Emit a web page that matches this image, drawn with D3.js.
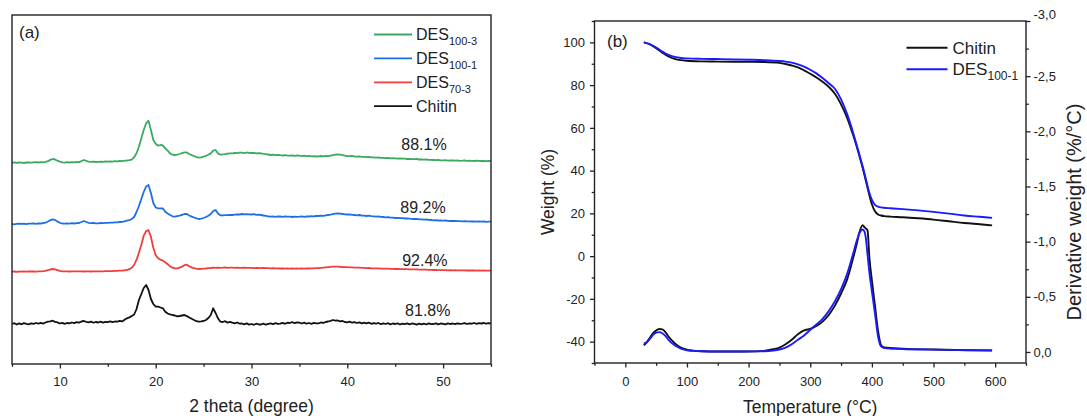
<!DOCTYPE html>
<html>
<head>
<meta charset="utf-8">
<script src="https://cdn.jsdelivr.net/npm/d3@7"></script>
<style>
  html, body { margin: 0; padding: 0; background: #fff; }
  svg { display: block; font-family: "Liberation Sans", Arial, Helvetica, sans-serif; }
</style>
</head>
<body>
<svg id="chart" width="1087" height="416"></svg>
<script>
// ---------------- (a) XRD patterns ----------------
// Sampling grid of the diffractograms: 5–55° in 0.25° steps (201 points)
const twoTheta = d3.range(201).map(i => 5 + i * 0.25);

// Intensity above each trace's own baseline (a.u.)
const xrdDES1003 = [
  0.0,0.3,-0.2,0.2, 0.1,-0.3,0.2,0.4, 0.0,0.3,0.5,0.2, 0.6,0.3,0.9,1.6,
  2.8,3.7,3.2,2.0, 1.0,0.4,0.1,0.5, 0.2,0.6,0.3,0.7, 0.6,1.5,2.7,1.8,
  1.0,0.8,1.1,0.7, 0.9,1.0,0.8,1.2, 1.0,1.3,1.1,1.5, 1.4,1.7,1.6,2.1,
  2.2,2.5,3.0,5.5, 9.4,16.0,24.4,32.7, 39.4,42.0,32.7,22.7, 19.0,17.0,17.7,17.3,
  14.3,12.0,9.3,8.0, 7.7,8.0,8.7,9.5, 10.3,10.3,8.7,7.6, 6.7,5.6,5.0,5.4,
  6.0,6.9,8.0,9.3, 12.0,12.7,9.3,8.0, 8.3,8.6,9.1,9.3, 9.3,9.7,9.5,10.0,
  10.0,9.6,10.2,9.8, 9.7,9.9,9.4,9.6, 9.3,8.9,8.6,8.2, 7.7,8.0,7.6,7.9,
  7.5,7.2,7.6,7.1, 7.0,7.3,6.8,7.2, 7.0,6.6,7.0,6.5, 6.7,6.3,6.6,6.2,
  6.3,6.7,6.4,6.9, 6.5,7.0,7.5,8.0, 8.3,8.0,7.6,7.0, 6.7,6.5,6.8,6.2,
  6.0,6.3,5.8,5.9, 5.5,5.8,5.3,5.4, 5.0,5.2,4.8,4.9, 4.5,4.8,4.3,4.5,
  4.3,4.0,4.4,4.1, 4.0,3.7,3.9,3.5, 3.5,3.7,3.2,3.3, 3.0,3.2,2.8,2.9,
  2.7,2.5,2.8,2.4, 2.3,2.5,2.1,2.3, 2.2,2.0,2.3,1.9, 2.0,2.2,1.8,2.0,
  1.9,1.7,2.0,1.8, 1.7,1.9,1.6,1.8, 1.7
];
const xrdDES1001 = [
  0.0,-0.3,0.2,0.4, 0.1,0.3,-0.1,0.4, 0.3,0.5,0.2,0.6, 0.5,0.9,1.3,2.5,
  3.8,4.7,4.0,2.4, 1.2,0.5,0.3,0.6, 0.4,0.8,0.5,0.9, 1.0,2.0,3.0,2.0,
  1.2,0.8,1.0,0.7, 0.7,1.0,0.8,1.2, 1.1,1.4,1.3,1.6, 1.7,2.0,2.2,2.6,
  3.3,3.8,5.0,7.0, 12.0,18.0,25.0,32.0, 37.5,39.0,31.0,21.0, 16.5,15.7,15.7,15.5,
  12.3,10.5,9.0,7.7, 7.3,7.8,8.3,9.2, 10.0,10.0,8.5,7.4, 6.5,5.6,5.0,5.3,
  6.0,7.0,8.3,10.0, 13.0,14.0,10.5,8.7, 8.7,8.9,8.8,9.1, 9.0,9.4,9.7,9.5,
  10.0,9.7,9.9,9.6, 9.5,9.8,9.2,9.4, 9.0,8.5,8.1,7.7, 7.3,7.6,7.2,7.7,
  7.5,7.2,7.6,7.3, 7.3,7.0,7.4,7.1, 7.3,7.6,7.2,7.5, 7.5,7.8,7.6,8.0,
  8.0,8.3,8.1,8.6, 9.0,9.3,9.8,10.3, 10.5,10.3,10.0,9.7, 9.5,9.7,9.2,9.0,
  8.7,9.0,8.5,8.4, 8.0,8.3,7.8,7.7, 7.3,7.6,7.1,7.0, 6.7,6.9,6.4,6.3,
  6.0,6.2,5.8,5.8, 5.5,5.7,5.3,5.2, 5.0,5.2,4.7,4.6, 4.3,4.5,4.1,4.0,
  3.7,3.9,3.5,3.5, 3.3,3.5,3.1,3.0, 3.0,3.2,2.8,2.9, 2.7,2.9,2.6,2.7,
  2.5,2.7,2.4,2.6, 2.4,2.5,2.2,2.4, 2.3
];
const xrdDES703 = [
  0.0,0.2,-0.1,0.2, 0.1,0.3,0.0,0.2, 0.2,0.3,0.1,0.4, 0.3,0.5,0.8,1.5,
  2.2,2.7,2.4,1.5, 0.8,0.4,0.3,0.4, 0.2,0.4,0.3,0.3, 0.3,0.4,0.2,0.4,
  0.3,0.2,0.4,0.3, 0.3,0.4,0.3,0.5, 0.5,0.6,0.5,0.8, 0.8,1.0,1.1,1.4,
  1.7,2.5,4.0,6.7, 12.0,19.0,27.0,36.0, 40.5,41.5,35.0,24.0, 16.5,13.5,12.0,11.0,
  9.5,7.5,5.3,4.0, 3.3,3.4,4.0,5.0, 6.5,7.0,5.5,4.3, 3.5,3.0,2.7,2.8,
  3.0,3.2,3.5,3.7, 4.0,3.8,4.1,3.9, 4.0,4.2,3.9,4.1, 4.0,3.8,4.1,3.9,
  3.9,4.1,3.8,3.9, 3.8,3.6,3.9,3.7, 3.6,3.8,3.5,3.6, 3.4,3.6,3.3,3.4,
  3.2,3.4,3.1,3.3, 3.1,3.3,3.0,3.2, 3.0,3.2,3.0,3.3, 3.2,3.4,3.3,3.6,
  3.5,3.8,4.0,4.4, 4.6,4.8,5.0,5.1, 5.0,4.9,4.7,4.6, 4.5,4.4,4.3,4.1,
  4.0,4.1,3.8,3.8, 3.6,3.7,3.4,3.4, 3.3,3.4,3.1,3.1, 3.0,3.1,2.8,2.8,
  2.7,2.8,2.6,2.6, 2.5,2.6,2.4,2.4, 2.3,2.4,2.1,2.1, 2.0,2.1,1.9,1.9,
  1.7,1.8,1.6,1.6, 1.5,1.6,1.4,1.5, 1.4,1.5,1.3,1.4, 1.3,1.4,1.2,1.3,
  1.2,1.3,1.1,1.2, 1.1,1.2,1.0,1.1, 1.0
];
const xrdChitin = [
  0.0,0.8,-0.5,0.6, -0.3,0.9,0.2,-0.4, 0.7,0.1,1.0,0.3, 1.1,0.4,1.5,2.3,
  2.6,3.3,2.1,1.6, 0.5,1.2,0.2,1.0, 0.6,1.5,0.9,1.8, 1.4,2.5,3.0,2.2,
  1.6,2.4,1.3,2.0, 1.5,2.3,1.4,2.1, 1.8,2.6,1.9,2.5, 2.3,3.1,2.6,4.2,
  5.7,6.6,8.0,9.5, 15.0,24.0,30.0,36.0, 39.0,34.0,25.0,20.0, 17.3,17.3,16.5,15.7,
  12.3,10.5,9.7,9.0, 8.5,7.6,8.0,8.5, 9.0,7.9,6.5,5.2, 4.0,2.8,2.3,2.6,
  3.0,4.0,6.0,9.0, 15.7,11.0,5.7,2.3, 2.0,2.8,1.4,2.1, 1.3,0.6,1.5,0.4,
  0.5,-0.4,0.6,-0.6, 0.0,-0.8,0.3,-0.5, -0.5,0.4,-0.7,0.2, 0.7,-0.2,0.9,0.1,
  0.3,1.1,0.2,1.3, 1.0,1.8,0.9,1.6, 1.3,0.5,1.4,0.3, 1.0,0.2,1.1,0.6,
  0.7,1.5,1.1,2.0, 2.5,3.2,4.0,3.4, 3.5,2.6,3.0,2.0, 1.7,2.4,1.3,1.9,
  1.0,1.7,0.6,1.3, 0.7,1.4,0.2,0.9, 0.3,1.0,-0.2,0.6, 0.0,0.8,-0.4,0.5,
  0.0,0.7,-0.5,0.4, -0.2,0.6,-0.3,0.5, 0.1,-0.6,0.4,-0.3, 0.3,-0.5,0.6,-0.2,
  0.0,0.7,-0.4,0.5, 0.2,-0.3,0.6,0.0, 0.5,-0.2,0.7,0.1, 0.4,0.9,0.0,0.6,
  0.3,1.0,0.2,0.8, 0.5,1.0,0.3,0.9, 0.7
];

const xrdSeries   = [xrdDES1003, xrdDES1001, xrdDES703, xrdChitin];
const xrdColors   = ["#3aaa62", "#1f6fe4", "#f23d3d", "#111111"];
const xrdOffsets  = [201.3, 140, 92.3, 40];          // vertical stacking (a.u.)
const legendMainA = ["DES", "DES", "DES", "Chitin"];
const legendSubA  = ["100-3", "100-1", "70-3", ""];
const crystLabels = ["88.1%", "89.2%", "92.4%", "81.8%"];
const crystTheta  = [48.0, 47.9, 48.1, 48.4];        // label positions along 2θ
const crystLevel  = [18.4, 17.3, 11.7, 14.0];        // label height above baseline (a.u.)
const xTicksA     = [10, 20, 30, 40, 50];
const xMinorA     = [5, 15, 25, 35, 45, 55];

// ---------------- (b) TGA / DTG ----------------
const tgaTemp = [30, 40, 50, 60, 70, 80, 90, 100, 125, 150, 200, 225, 250, 260, 270, 280, 290,
                 300, 310, 320, 330, 340, 350, 360, 365, 370, 375, 380, 385, 390, 395, 400,
                 405, 410, 415, 420, 430, 450, 475, 500, 525, 550, 575, 595];
const tgaChitin = [100, 99.0, 97.3, 95.2, 93.4, 92.3, 91.7, 91.4, 91.1, 91.0, 90.9, 90.8, 90.4,
                   89.9, 89.2, 88.3, 86.9, 85.3, 83.6, 81.6, 79.2, 76.0, 71.0, 64.5, 60.5, 56.3,
                   51.6, 46.6, 41.3, 35.5, 29.5, 24.3, 21.0, 19.5, 19.0, 18.7, 18.5, 18.2, 17.7,
                   17.1, 16.3, 15.5, 14.9, 14.4];
const tgaDES1001 = [100, 99.2, 97.6, 95.7, 94.1, 93.2, 92.7, 92.5, 92.3, 92.2, 91.9, 91.7, 91.3,
                    91.0, 90.5, 89.7, 88.6, 87.2, 85.5, 83.3, 80.9, 78.3, 73.3, 66.3, 62.0, 57.3,
                    52.3, 47.2, 42.0, 36.3, 30.5, 26.3, 24.0, 23.2, 22.8, 22.6, 22.4, 22.0, 21.4,
                    20.7, 19.9, 19.0, 18.4, 17.9];

const dtgTemp = [30, 35, 40, 45, 50, 55, 60, 65, 70, 80, 90, 100, 110, 125, 150, 175, 200, 225,
                 240, 250, 260, 270, 280, 290, 300, 310, 320, 330, 340, 350, 360, 370, 375, 380,
                 385, 388, 390, 393, 396, 400, 405, 410, 415, 420, 450, 500, 550, 595];
const dtgChitin = [-0.06, -0.09, -0.13, -0.17, -0.195, -0.208, -0.205, -0.18, -0.14, -0.08, -0.04,
                   -0.02, -0.012, -0.006, -0.004, -0.004, -0.004, -0.01, -0.025, -0.04, -0.07,
                   -0.11, -0.16, -0.195, -0.21, -0.235, -0.275, -0.335, -0.42, -0.53, -0.66, -0.86,
                   -0.97, -1.09, -1.15, -1.13, -1.12, -1.10, -0.85, -0.65, -0.42, -0.19, -0.06,
                   -0.04, -0.03, -0.022, -0.017, -0.014];
const dtgDES1001 = [-0.075, -0.09, -0.12, -0.155, -0.175, -0.18, -0.17, -0.145, -0.11, -0.06,
                    -0.03, -0.016, -0.01, -0.006, -0.004, -0.004, -0.005, -0.006, -0.012, -0.022,
                    -0.04, -0.07, -0.11, -0.15, -0.20, -0.25, -0.30, -0.37, -0.46, -0.57, -0.71,
                    -0.90, -1.00, -1.08, -1.11, -1.09, -1.04, -0.88, -0.72, -0.55, -0.35, -0.14,
                    -0.05, -0.035, -0.027, -0.021, -0.016, -0.013];

const colorsB      = ["#111111", "#1a1aff"];
const legendMainB  = ["Chitin", "DES"];
const legendSubB   = ["", "100-1"];
const xTicksB      = [0, 100, 200, 300, 400, 500, 600];
const xMinorB      = [-50, 50, 150, 250, 350, 450, 550, 650];
const yTicksB      = [-40, -20, 0, 20, 40, 60, 80, 100];
const yMinorB      = [-50, -30, -10, 10, 30, 50, 70, 90, 110];
const yTicksDTG    = [0, -0.5, -1.0, -1.5, -2.0, -2.5, -3.0];
const yMinorDTG    = [-0.25, -0.75, -1.25, -1.75, -2.25, -2.75];

// ---------------- drawing ----------------
const svg = d3.select("#chart");
const ink = "#222";
const locale = d3.formatLocale({decimal: ",", thousands: ".", grouping: [3], currency: ["", ""], minus: "-"});
const fmtInt = locale.format("d");
const fmtDec = locale.format(".1f");

function styleAxis(g) {
  g.select(".domain").remove();
  g.selectAll(".tick line").attr("stroke", ink).attr("stroke-width", 1.3);
  g.selectAll(".tick text").attr("fill", ink).attr("font-size", 13)
    .attr("font-family", "\"Liberation Sans\", Arial, sans-serif");
}

// ---- panel (a) ----
const xA = d3.scaleLinear().domain([5, 55]).range([12, 491]);
const yA = d3.scaleLinear().domain([0, 349]).range([364, 15]);
const gA = svg.append("g");

const lineA = (vals, off) => d3.line()
  .x((d, i) => xA(twoTheta[i]))
  .y(d => yA(d + off))(vals);

xrdSeries.forEach((vals, k) => {
  gA.append("path")
    .attr("d", lineA(vals, xrdOffsets[k]))
    .attr("fill", "none")
    .attr("stroke", xrdColors[k])
    .attr("stroke-width", 1.8)
    .attr("stroke-linejoin", "round");
});

gA.append("g").attr("transform", `translate(0,${yA(0)})`)
  .call(d3.axisBottom(xA).tickValues(xTicksA).tickSize(4.5).tickPadding(8.5).tickFormat(fmtInt))
  .call(styleAxis);
gA.append("g").attr("transform", `translate(0,${yA(0)})`)
  .call(d3.axisBottom(xA).tickValues(xMinorA).tickSize(2.8).tickFormat(""))
  .call(styleAxis);

gA.append("rect")
  .attr("x", xA(5)).attr("y", yA(349))
  .attr("width", xA(55) - xA(5)).attr("height", yA(0) - yA(349))
  .attr("fill", "none").attr("stroke", ink).attr("stroke-width", 1.4);

gA.append("text").attr("x", 19).attr("y", 38).attr("font-size", 17).attr("fill", ink).text("(a)");

gA.append("text").attr("x", (xA(5) + xA(55)) / 2).attr("y", 411.5)
  .attr("text-anchor", "middle").attr("font-size", 17.5).attr("fill", ink).text("2 theta (degree)");

crystLabels.forEach((t, k) => {
  gA.append("text")
    .attr("x", xA(crystTheta[k]))
    .attr("y", yA(xrdOffsets[k] + crystLevel[k]) + 5.8)
    .attr("text-anchor", "middle").attr("font-size", 16).attr("fill", ink).text(t);
});

const legA = gA.append("g");
xrdColors.forEach((c, k) => {
  const y = 34.5 + k * 23.9;
  legA.append("line").attr("x1", 374).attr("x2", 412).attr("y1", y).attr("y2", y)
    .attr("stroke", c).attr("stroke-width", 1.8);
  const t = legA.append("text").attr("x", 416).attr("y", y + 5.8).attr("font-size", 16).attr("fill", ink);
  t.append("tspan").text(legendMainA[k]);
  if (legendSubA[k]) t.append("tspan").attr("font-size", 11).attr("dy", 4.5).text(legendSubA[k]);
});

// ---- panel (b) ----
const xB  = d3.scaleLinear().domain([-50, 650]).range([594.5, 1026]);
const yW  = d3.scaleLinear().domain([-50, 110]).range([363, 21]);
const yD  = d3.scaleLinear().domain([0.1, -3.0]).range([363, 21]);
const gB  = svg.append("g");

const tgLine = vals => d3.line().curve(d3.curveMonotoneX)
  .x((d, i) => xB(tgaTemp[i])).y(d => yW(d))(vals);
const dtLine = vals => d3.line().curve(d3.curveMonotoneX)
  .x((d, i) => xB(dtgTemp[i])).y(d => yD(d))(vals);

[[tgaChitin, dtgChitin], [tgaDES1001, dtgDES1001]].forEach(([tg, dt], k) => {
  gB.append("path").attr("d", tgLine(tg)).attr("fill", "none")
    .attr("stroke", colorsB[k]).attr("stroke-width", 1.9);
  gB.append("path").attr("d", dtLine(dt)).attr("fill", "none")
    .attr("stroke", colorsB[k]).attr("stroke-width", 1.9).attr("stroke-linejoin", "round");
});

// bottom axis
gB.append("g").attr("transform", `translate(0,${yW(-50)})`)
  .call(d3.axisBottom(xB).tickValues(xTicksB).tickSize(4.5).tickPadding(9).tickFormat(fmtInt))
  .call(styleAxis);
gB.append("g").attr("transform", `translate(0,${yW(-50)})`)
  .call(d3.axisBottom(xB).tickValues(xMinorB).tickSize(2.8).tickFormat(""))
  .call(styleAxis);
// left axis (weight)
gB.append("g").attr("transform", `translate(${xB(-50)},0)`)
  .call(d3.axisLeft(yW).tickValues(yTicksB).tickSize(4.5).tickPadding(5).tickFormat(fmtInt))
  .call(styleAxis);
gB.append("g").attr("transform", `translate(${xB(-50)},0)`)
  .call(d3.axisLeft(yW).tickValues(yMinorB).tickSize(2.8).tickFormat(""))
  .call(styleAxis);
// right axis (derivative weight)
const rightAxis = gB.append("g").attr("transform", `translate(${xB(650)},0)`)
  .call(d3.axisRight(yD).tickValues(yTicksDTG).tickSize(4.5).tickPadding(3).tickFormat(fmtDec))
  .call(styleAxis);
// the top label sits just above the frame corner
rightAxis.selectAll(".tick").filter(d => d === -3.0).select("text").attr("dy", "-0.2em");
gB.append("g").attr("transform", `translate(${xB(650)},0)`)
  .call(d3.axisRight(yD).tickValues(yMinorDTG).tickSize(2.8).tickFormat(""))
  .call(styleAxis);

gB.append("rect")
  .attr("x", xB(-50)).attr("y", yW(110))
  .attr("width", xB(650) - xB(-50)).attr("height", yW(-50) - yW(110))
  .attr("fill", "none").attr("stroke", ink).attr("stroke-width", 1.4);

gB.append("text").attr("x", 607).attr("y", 46.5).attr("font-size", 17).attr("fill", ink).text("(b)");

gB.append("text").attr("x", (xB(-50) + xB(650)) / 2).attr("y", 413)
  .attr("text-anchor", "middle").attr("font-size", 17.5).attr("fill", ink).text("Temperature (°C)");
gB.append("text").attr("transform", "translate(554,192) rotate(-90)")
  .attr("text-anchor", "middle").attr("font-size", 17.5).attr("fill", ink).text("Weight (%)");
gB.append("text").attr("transform", "translate(1081,212) rotate(-90)")
  .attr("text-anchor", "middle").attr("font-size", 20).attr("fill", ink).text("Derivative weight (%/°C)");

const legB = gB.append("g");
colorsB.forEach((c, k) => {
  const y = 47.7 + k * 21.5;
  legB.append("line").attr("x1", 906.5).attr("x2", 947.5).attr("y1", y).attr("y2", y)
    .attr("stroke", c).attr("stroke-width", 1.9);
  const t = legB.append("text").attr("x", 952.5).attr("y", y + 6.2).attr("font-size", 17).attr("fill", ink);
  t.append("tspan").text(legendMainB[k]);
  if (legendSubB[k]) t.append("tspan").attr("font-size", 12).attr("dy", 5).text(legendSubB[k]);
});
</script>
</body>
</html>
